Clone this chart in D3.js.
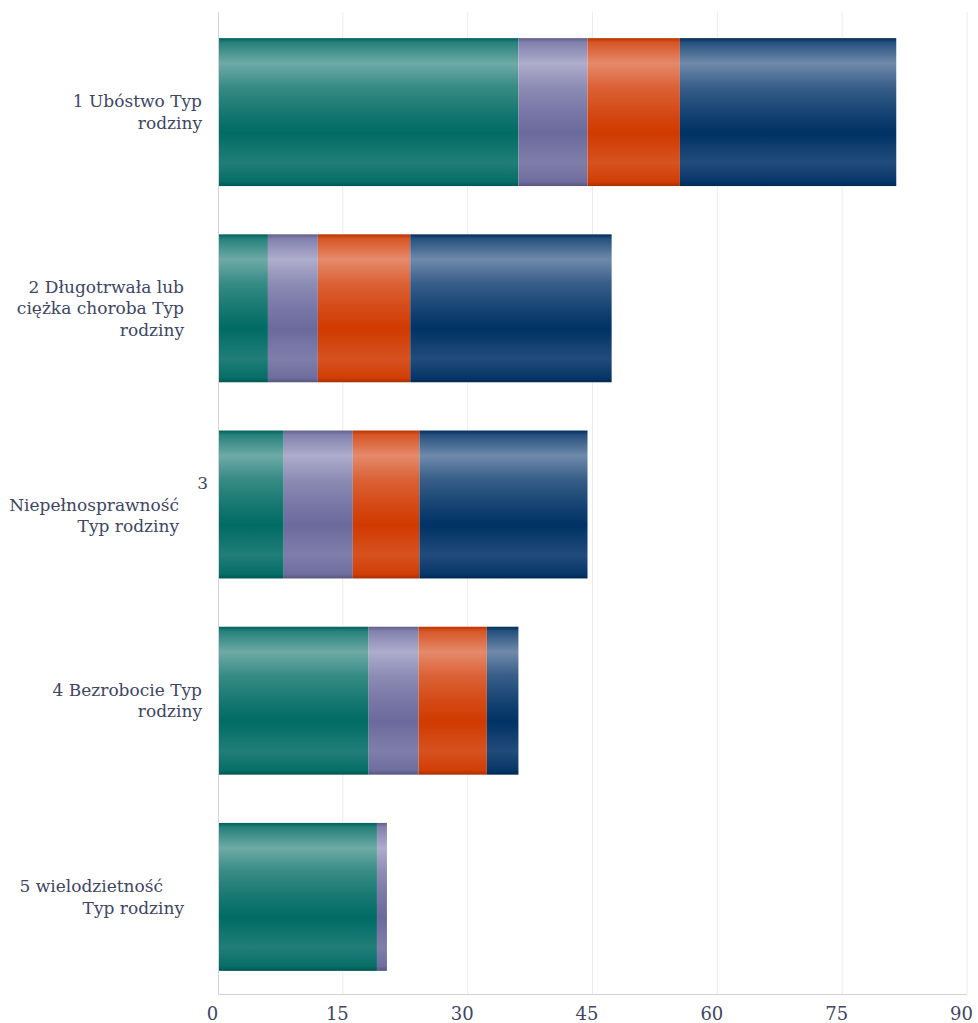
<!DOCTYPE html>
<html>
<head>
<meta charset="utf-8">
<script src="https://cdn.jsdelivr.net/npm/d3@7"></script>
<style>
  html, body { margin: 0; padding: 0; background: #ffffff; }
  svg { display: block; }
  svg text { font-family: "DejaVu Serif", "Liberation Serif", serif; }
</style>
</head>
<body>
<script>
// ---------------- DATA ----------------
const categories = [
  ["1 Ubóstwo Typ", "rodziny"],
  ["2 Długotrwała lub", "ciężka choroba Typ", "rodziny"],
  ["3", "Niepełnosprawność", "Typ rodziny"],
  ["4 Bezrobocie Typ", "rodziny"],
  ["5 wielodzietność", "Typ rodziny"]
];
const seriesTeal   = [36.1, 6.0, 7.9, 18.1, 19.1];
const seriesPurple = [8.3, 6.0, 8.3, 6.0, 1.2];
const seriesOrange = [11.1, 11.1, 8.0, 8.2, 0];
const seriesNavy   = [26.0, 24.2, 20.2, 3.8, 0];
const xTicks = [0, 15, 30, 45, 60, 75, 90];

// ---------------- LAYOUT / STYLE ----------------
const W = 978, H = 1023;
const plot = { left: 218, right: 967, top: 12, bottom: 994 };
const labelLineEnds = [[-16, -16], [-34, -34, -34], [-10, -39, -39], [-16, -16], [-55, -34]];
const textColor = "#404563";

const seriesDefs = [
  { key: "teal",   values: seriesTeal,   dark: "#006b64", light: "#6eaaa6" },
  { key: "purple", values: seriesPurple, dark: "#6b6a9c", light: "#aeadcc" },
  { key: "orange", values: seriesOrange, dark: "#d03a00", light: "#e58a6c" },
  { key: "navy",   values: seriesNavy,   dark: "#003265", light: "#6f8aab" }
];

const svg = d3.select("body").append("svg")
  .attr("width", W).attr("height", H);

const x = d3.scaleLinear().domain([0, 90]).range([plot.left, plot.right]);
const y = d3.scaleBand()
  .domain(d3.range(categories.length))
  .range([plot.top + 2, plot.bottom + 1])
  .paddingInner(0.246).paddingOuter(0.123);

// gradients
const defs = svg.append("defs");
seriesDefs.forEach(s => {
  const mix = t => d3.interpolateRgb(s.dark, s.light)(t);
  const g = defs.append("linearGradient")
    .attr("id", "grad-" + s.key)
    .attr("x1", 0).attr("y1", 0).attr("x2", 0).attr("y2", 1);
  [
    [0.00, d3.color(s.dark).darker(0.3).formatHex()],
    [0.03, mix(0.35)],
    [0.17, mix(1.0)],
    [0.33, mix(0.5)],
    [0.50, mix(0.2)],
    [0.64, mix(0.0)],
    [0.84, mix(0.3)],
    [0.97, mix(0.05)],
    [1.00, d3.color(s.dark).darker(0.6).formatHex()]
  ].forEach(([o, c]) => g.append("stop").attr("offset", o).attr("stop-color", c));
});

// grid lines
svg.append("g")
  .selectAll("line")
  .data(xTicks.slice(1))
  .join("line")
  .attr("x1", d => x(d)).attr("x2", d => x(d))
  .attr("y1", plot.top).attr("y2", plot.bottom)
  .attr("stroke", "#ececec").attr("stroke-width", 1);

// bars
const stacked = d3.stack().keys(seriesDefs.map(s => s.key))(
  categories.map((c, i) => {
    const o = {};
    seriesDefs.forEach(s => o[s.key] = s.values[i]);
    return o;
  })
);

svg.append("g").selectAll("g")
  .data(stacked)
  .join("g")
  .attr("fill", d => "url(#grad-" + d.key + ")")
  .selectAll("rect")
  .data(d => d.map((v, i) => ({ v, i })))
  .join("rect")
  .attr("x", d => x(d.v[0]))
  .attr("y", d => y(d.i))
  .attr("width", d => Math.max(0, x(d.v[1]) - x(d.v[0])))
  .attr("height", y.bandwidth());

// axes lines
svg.append("line")
  .attr("x1", plot.left + 0.5).attr("x2", plot.left + 0.5)
  .attr("y1", plot.top).attr("y2", plot.bottom)
  .attr("stroke", "#d4d4d4").attr("stroke-width", 1);
svg.append("line")
  .attr("x1", plot.left).attr("x2", plot.right)
  .attr("y1", plot.bottom + 0.5).attr("y2", plot.bottom + 0.5)
  .attr("stroke", "#d4d4d4").attr("stroke-width", 1);

// x tick labels
svg.append("g").selectAll("text")
  .data(xTicks)
  .join("text")
  .attr("x", d => x(d) - 5.5)
  .attr("y", 1020)
  .attr("text-anchor", "middle")
  .style("font-size", "18px")
  .attr("fill", textColor)
  .text(d => d);

// category labels
const lineH = 21.5;
const lg = svg.append("g");
categories.forEach((lines, i) => {
  const cy = y(i) + y.bandwidth() / 2;
  const n = lines.length;
  lines.forEach((t, j) => {
    lg.append("text")
      .attr("x", plot.left + labelLineEnds[i][j])
      .attr("y", cy + (j - (n - 1) / 2) * lineH + 6)
      .attr("text-anchor", "end")
      .style("font-size", "17px")
      .attr("fill", textColor)
      .text(t);
  });
});
</script>
</body>
</html>
